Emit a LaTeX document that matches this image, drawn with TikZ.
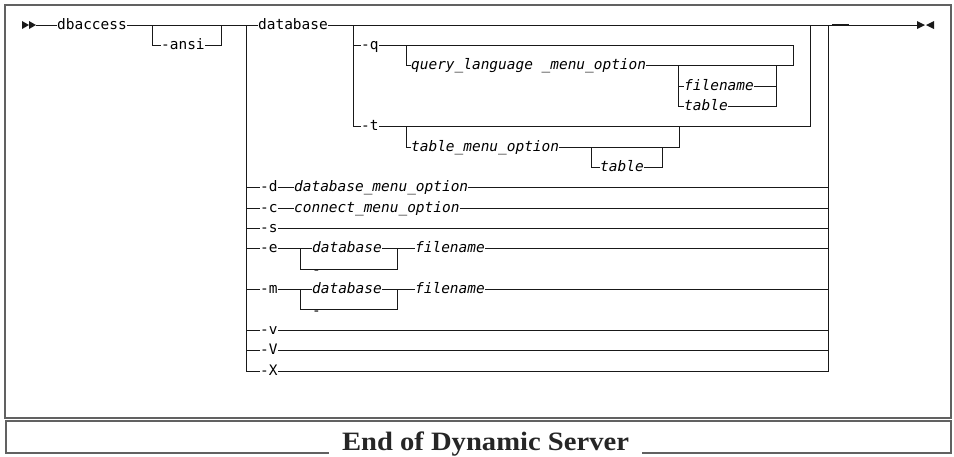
\documentclass[tikz,border=0pt]{standalone}
\usepackage{fontspec}
\newfontfamily\dmono{DejaVu Sans Mono}
\newfontfamily\endfont{Liberation Serif}
\begin{document}
\begin{tikzpicture}[x=1pt,y=-1pt,
  lbl/.style={inner xsep=0pt, inner ysep=0pt, text height=10pt, text depth=2pt, anchor=west,
              font=\dmono\fontsize{14.45}{16}\selectfont, text=black},
  var/.style={lbl, font=\dmono\itshape\fontsize{14.45}{16}\selectfont},
  ln/.style={line width=1pt, black!90},
  frame/.style={line width=1.5pt, black!62},
  endlbl/.style={anchor=base, inner xsep=13pt, inner ysep=0pt, font=\endfont\bfseries\fontsize{26.5}{28}\selectfont, text=black!85},
  marker/.style={fill=black!90}
]
\useasboundingbox (0,0) rectangle (954,456);
% frames
\draw[frame] (5,5) rectangle (951,418);
\node[endlbl] (eods) at (485.5,450) {\scalebox{1.08}[1]{End of Dynamic Server}};
\draw[frame] (eods.west |- 6,453) -- (6,453) -- (6,421) -- (951,421) -- (951,453) -- (eods.east |- 6,453);

% start and end markers
\coordinate (start) at (36,25);
\coordinate (endm) at (917,25);
\fill[marker] (22,21) -- (29,25) -- (22,29) -- cycle;
\fill[marker] (29,21) -- (36,25) -- (29,29) -- cycle;
\fill[marker] (917,21) -- (925,25) -- (917,29) -- cycle;
\fill[marker] (934,21) -- (926,25) -- (934,29) -- cycle;

% labels
\node[lbl] (dbaccess) at (57,25) {dbaccess};
\node[lbl] (ansi) at (161,45.4) {-ansi};
\node[lbl] (database) at (258,25) {database};
\node[lbl] (q) at (361,45.4) {-q};
\node[var] (qlmo) at (411,65.7) {query\_language \_menu\_option};
\node[var] (qfile) at (684,86.1) {filename};
\node[var] (qtable) at (684,106.4) {table};
\node[lbl] (t) at (361,126.8) {-t};
\node[var] (tmo) at (411,147.1) {table\_menu\_option};
\node[var] (ttable) at (600,167.5) {table};
\node[lbl] (d) at (260,187.8) {-d};
\node[var] (dmo) at (294,187.8) {database\_menu\_option};
\node[lbl] (c) at (260,208.2) {-c};
\node[var] (cmo) at (294,208.2) {connect\_menu\_option};
\node[lbl] (s) at (260,228.5) {-s};
\node[lbl] (e) at (260,248.9) {-e};
\node[var] (edb) at (312,248.9) {database};
\node[lbl] (edash) at (312,270.4) {-};
\node[var] (efile) at (415,248.9) {filename};
\node[lbl] (m) at (260,289.6) {-m};
\node[var] (mdb) at (312,289.6) {database};
\node[lbl] (mdash) at (312,311.1) {-};
\node[var] (mfile) at (415,289.6) {filename};
\node[lbl] (v) at (260,330.3) {-v};
\node[lbl] (V) at (260,350.6) {-V};
\node[lbl] (X) at (260,371) {-X};

% main line
\draw[ln] (start) -- (dbaccess.west);
\draw[ln] (dbaccess.east) -- (database.west);
\draw[ln] (152,25) |- (ansi.west);
\draw[ln] (ansi.east) -| (221,25);
\draw[ln] (database.east) -- (endm);
\draw[line width=1.8pt, black!90] (832,24.7) -- (849,24.7);

% database group
\draw[ln] (353,25) |- (t.west);
\draw[ln] (353,0 |- q.west) -- (q.west);
\draw[ln] (q.east) -| (793,65.7);
\draw[ln] (406,0 |- q.west) |- (qlmo.west);
\draw[ln] (qlmo.east) -- (793,65.7);
\draw[ln] (678,65.7) |- (qtable.west);
\draw[ln] (678,0 |- qfile.west) -- (qfile.west);
\draw[ln] (qfile.east) -- (776,0 |- qfile.east);
\draw[ln] (qtable.east) -| (776,65.7);
\draw[ln] (t.east) -| (810,25);
\draw[ln] (406,0 |- t.west) |- (tmo.west);
\draw[ln] (tmo.east) -| (679,0 |- t.west);
\draw[ln] (591,0 |- tmo.west) |- (ttable.west);
\draw[ln] (ttable.east) -| (662,0 |- tmo.west);

% big choice
\draw[ln] (246,25) |- (X.west);
\draw[ln] (828,25) |- (X.east);
\foreach \n in {d,c,s,e,m,v,V} {\draw[ln] (246,0 |- \n.west) -- (\n.west);}
\draw[ln] (d.east) -- (dmo.west);
\draw[ln] (dmo.east) -- (dmo.east -| 828,0);
\draw[ln] (c.east) -- (cmo.west);
\draw[ln] (cmo.east) -- (cmo.east -| 828,0);
\draw[ln] (s.east) -- (s.east -| 828,0);
\draw[ln] (e.east) -- (edb.west);
\draw[ln] (edb.east) -- (efile.west);
\draw[ln] (efile.east) -- (efile.east -| 828,0);
\draw[ln] (300,0 |- e.east) |- (397,269.2) -- (397,0 |- e.east);
\draw[ln] (m.east) -- (mdb.west);
\draw[ln] (mdb.east) -- (mfile.west);
\draw[ln] (mfile.east) -- (mfile.east -| 828,0);
\draw[ln] (300,0 |- m.east) |- (397,309.9) -- (397,0 |- m.east);
\draw[ln] (v.east) -- (v.east -| 828,0);
\draw[ln] (V.east) -- (V.east -| 828,0);
\end{tikzpicture}
\end{document}
